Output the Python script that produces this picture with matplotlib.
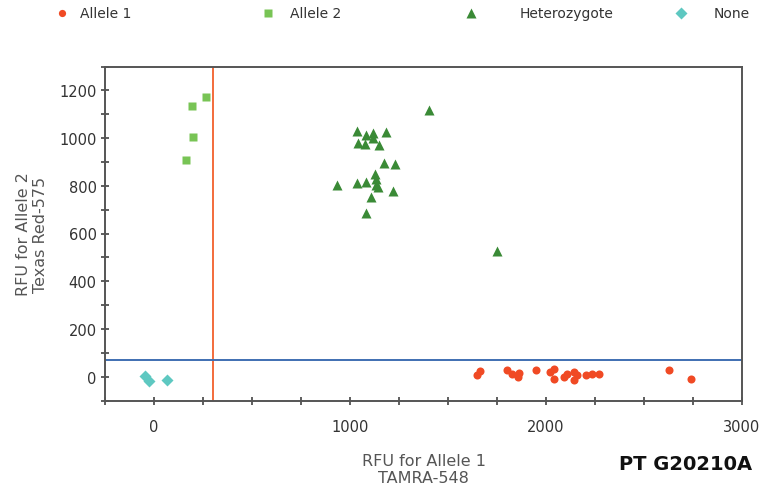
import matplotlib
matplotlib.use("Agg")
import matplotlib.pyplot as plt
from matplotlib.lines import Line2D

# Allelic discrimination plot: RFU of allele 1 (TAMRA-548) vs allele 2 (Texas Red-575)
allele1_x = [1647, 1664, 1801, 1826, 1855, 1860, 1949, 2022, 2040, 2040, 2091, 2108,
             2142, 2142, 2159, 2202, 2236, 2270, 2628, 2739]
allele1_y = [6, 22, 27, 13, -1, 17, 27, 20, 34, -8, -1, 13, 20, -16, 6, 6, 13, 13, 27, -8]

allele2_x = [163, 199, 192, 266]
allele2_y = [906, 1005, 1136, 1173]

het_x = [1405, 1036, 1084, 1115, 1183, 1043, 1076, 1118, 1147, 1176, 1229, 936, 1036,
         1081, 1127, 1132, 1135, 1141, 1221, 1105, 1081, 1752]
het_y = [1117, 1030, 1012, 1023, 1026, 981, 974, 1002, 970, 897, 891, 805, 813, 817,
         848, 827, 805, 795, 778, 752, 686, 526]

none_x = [-45, -25, 64]
none_y = [1, -20, -16]

x_threshold = 300
y_threshold = 70

x_ticks = [0, 1000, 2000, 3000]
y_ticks = [0, 200, 400, 600, 800, 1000, 1200]

c_a1 = "#f04a24"
c_a2 = "#78c455"
c_het = "#3a8a36"
c_none = "#5ec8c1"

fig = plt.figure(figsize=(7.64, 4.89), dpi=100)
ax = fig.add_axes([105 / 764, 1 - 401.5 / 489, (742 - 105) / 764, (401.5 - 67.5) / 489])

ax.axvline(x_threshold, color="#f36b3b", lw=1.4, zorder=1)
ax.axhline(y_threshold, color="#3f6fb2", lw=1.4, zorder=1)

ax.plot(allele1_x, allele1_y, "o", color=c_a1, ms=5.8, mec="none", zorder=3)
ax.plot(allele2_x, allele2_y, "s", color=c_a2, ms=6.2, mec="none", zorder=3)
ax.plot(het_x, het_y, "^", color=c_het, ms=7.2, mec="none", zorder=3)
ax.plot(none_x, none_y, "D", color=c_none, ms=6.2, mec="none", zorder=3)

ax.set_xlim(-250, 3000)
ax.set_ylim(-100, 1300)
ax.set_xticks(x_ticks)
ax.set_yticks(y_ticks)
ax.set_xticks(range(-250, 3001, 250), minor=True)
ax.set_yticks(range(-100, 1301, 100), minor=True)
ax.tick_params(which="both", direction="inout", length=6, width=1.1, color="#333333",
               labelsize=10.5, labelcolor="#333333", top=False, right=False)
ax.tick_params(axis="x", which="major", pad=10)
ax.tick_params(axis="y", which="major", pad=3)
for sp in ax.spines.values():
    sp.set_color("#555555")
    sp.set_linewidth(1.4)

ax.set_xlabel("RFU for Allele 1\nTAMRA-548", fontsize=11.5, color="#555555",
              labelpad=14, linespacing=1.15)
ax.set_ylabel("RFU for Allele 2\nTexas Red-575", fontsize=11.5, color="#555555",
              labelpad=8, linespacing=1.15)

fig.text(752 / 764, 1 - 465 / 489, "PT G20210A", fontsize=14, fontweight="bold",
         color="#111111", ha="right", va="center")

# Legend row across the top
legend_items = [
    ("o", c_a1, 5.2, 62, 80, "Allele 1"),
    ("s", c_a2, 5.5, 268, 290, "Allele 2"),
    ("^", c_het, 6.5, 471, 520, "Heterozygote"),
    ("D", c_none, 6.0, 681, 714, "None"),
]
for marker, color, ms, mx, tx, label in legend_items:
    fig.add_artist(Line2D([mx / 764], [1 - 14 / 489], marker=marker, color=color,
                          ms=ms, mec="none", ls="none", transform=fig.transFigure))
    fig.text(tx / 764, 1 - 14 / 489, label, fontsize=10, color="#333333",
             ha="left", va="center")

fig.savefig("out.png", dpi=100)
